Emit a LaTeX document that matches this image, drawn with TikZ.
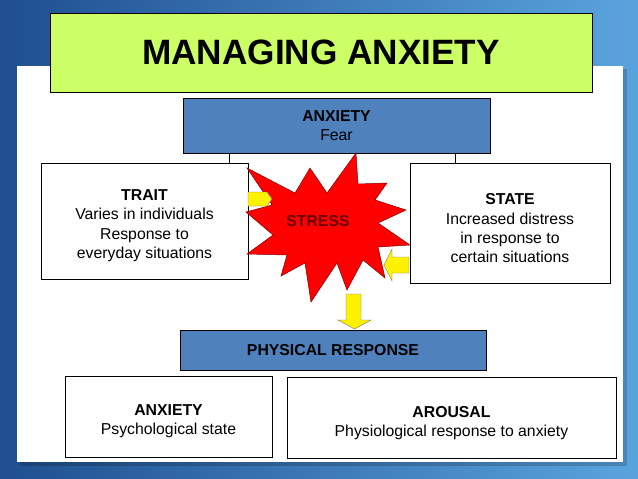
\documentclass[tikz,border=0pt]{standalone}
\usepackage{fontspec}
\setmainfont{Liberation Sans}
\definecolor{bgdark}{HTML}{1F4F8E}
\definecolor{bglight}{HTML}{5AA4DE}
\definecolor{titlegreen}{HTML}{CCFF66}
\definecolor{boxblue}{HTML}{4F81BD}
\definecolor{stresstext}{HTML}{6A0000}
\begin{document}
\begin{tikzpicture}[x=1pt,y=-1pt,
  box/.style={draw=black, line width=0.8pt, fill=white, inner sep=0pt, align=center,
    font=\fontsize{15.8}{19.3}\selectfont},
  bluebox/.style={box, fill=boxblue},
  yarrow/.style={fill=yellow, draw=black!55, line width=0.4pt},
  starshape/.style={fill=red, draw=red!50!black, line width=0.5pt},
  link/.style={draw=black, line width=0.6pt}]
\useasboundingbox (0,0) rectangle (638,479);
% background
\shade[left color=bgdark, right color=bglight] (0,0) rectangle (638,479);
\fill[black, opacity=0.18] (20,69) rectangle (627,466);
\fill[white] (17,66) rectangle (623,462);
% title
\node[box, fill=titlegreen, minimum width=542pt, minimum height=79pt,
  font=\fontsize{35.2}{40}\selectfont\bfseries] (title) at (321,52.5) {MANAGING ANXIETY};
% top anxiety box
\node[bluebox, minimum width=307pt, minimum height=55pt] (anx) at (336.5,125.5)
  {\textbf{ANXIETY}\\Fear};
% trait / state
\node[box, minimum width=207pt, minimum height=116pt] (trait) at (144.5,221)
  {\rule{0pt}{20pt}\textbf{TRAIT}\\Varies in individuals\\Response to\\everyday situations};
\node[box, minimum width=200pt, minimum height=120pt] (state) at (510,223)
  {\rule{0pt}{22pt}\textbf{STATE}\\Increased distress\\in response to\\certain situations};
% connectors
\coordinate (cl) at (229,0);
\coordinate (cr) at (455,0);
\draw[link] (anx.south -| cl) -- (trait.north -| cl);
\draw[link] (anx.south -| cr) -- (state.north -| cr);
% star
\draw[starshape] (356,153) -- (358,184) -- (387,183) -- (375,200) -- (406,210)
  -- (378,223) -- (410,245) -- (378,247) -- (385,278) -- (363,260) -- (347,290)
  -- (337,263) -- (311,302) -- (305,263) -- (281,276) -- (287,255) -- (247,254)
  -- (273,235) -- (246,212) -- (272,205) -- (247,168) -- (295,193) -- (310,168)
  -- (327,193) -- cycle;
\node[font=\fontsize{15.8}{19}\selectfont\bfseries, text=stresstext] (stress) at (318,221) {STRESS};
% yellow arrows
\draw[yarrow] (248,192) -- (267,192) -- (272,199) -- (267,206) -- (248,206) -- cycle;
\draw[yarrow] (409,257) -- (392,257) -- (392,249) -- (384,265) -- (392,281) -- (392,273) -- (409,273) -- cycle;
\draw[yarrow] (346,294) -- (361,294) -- (361,320) -- (371,320) -- (354.5,329) -- (338,320) -- (346,320) -- cycle;
% physical response
\node[bluebox, minimum width=306pt, minimum height=40pt] (phys) at (333,350)
  {\textbf{PHYSICAL RESPONSE}};
\node[box, minimum width=207pt, minimum height=81pt] (psy) at (168.5,416.5)
  {\rule{0pt}{20pt}\textbf{ANXIETY}\\Psychological state};
\node[box, minimum width=329pt, minimum height=81pt] (arousal) at (451.5,417.5)
  {\rule{0pt}{22pt}\textbf{AROUSAL}\\Physiological response to anxiety};
\end{tikzpicture}
\end{document}
